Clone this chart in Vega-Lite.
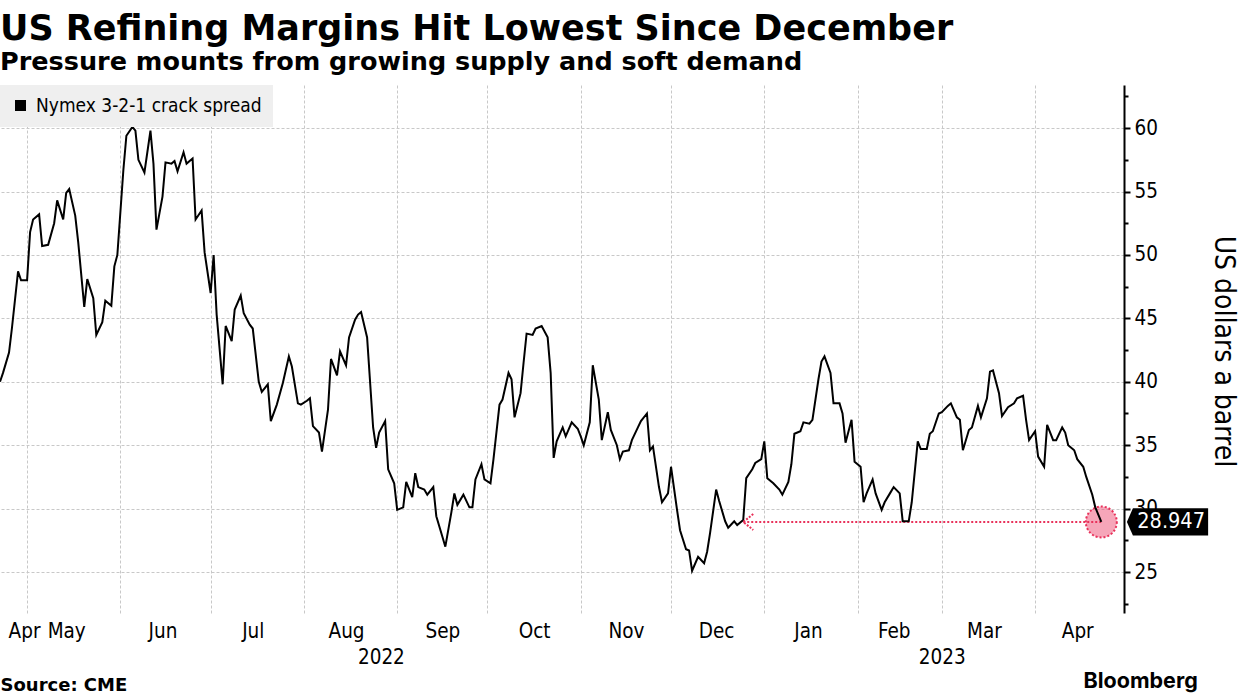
{
  "$schema": "https://vega.github.io/schema/vega-lite/v6.json",
  "width": 1124,
  "height": 528,
  "autosize": "none",
  "padding": {"left": 0, "top": 85, "right": 116, "bottom": 84},
  "background": "white",
  "title": {
    "text": "US Refining Margins Hit Lowest Since December",
    "subtitle": "Pressure mounts from growing supply and soft demand",
    "anchor": "start",
    "frame": "group",
    "font": "DejaVu Sans",
    "fontSize": 35,
    "fontWeight": "bold",
    "color": "#000000",
    "subtitleFont": "DejaVu Sans",
    "subtitleFontSize": 25.5,
    "subtitleFontWeight": "bold",
    "subtitleColor": "#000000",
    "subtitlePadding": 3,
    "offset": 10
  },
  "config": {"view": {"stroke": null}, "axis": {"zindex": 0}},
  "datasets": {
    "crack": [
      {"date": "2022-04-22", "value": 40.0},
      {"date": "2022-04-23", "value": 40.7},
      {"date": "2022-04-25", "value": 42.3},
      {"date": "2022-04-26", "value": 44.3},
      {"date": "2022-04-28", "value": 48.7},
      {"date": "2022-04-29", "value": 48.0},
      {"date": "2022-05-01", "value": 48.0},
      {"date": "2022-05-02", "value": 51.8},
      {"date": "2022-05-03", "value": 52.8},
      {"date": "2022-05-05", "value": 53.2},
      {"date": "2022-05-06", "value": 50.7},
      {"date": "2022-05-08", "value": 50.8},
      {"date": "2022-05-10", "value": 52.5},
      {"date": "2022-05-11", "value": 54.3},
      {"date": "2022-05-13", "value": 52.8},
      {"date": "2022-05-14", "value": 54.9},
      {"date": "2022-05-15", "value": 55.2},
      {"date": "2022-05-17", "value": 53.1},
      {"date": "2022-05-18", "value": 51.0},
      {"date": "2022-05-20", "value": 45.9},
      {"date": "2022-05-21", "value": 48.1},
      {"date": "2022-05-23", "value": 46.6},
      {"date": "2022-05-24", "value": 43.7},
      {"date": "2022-05-26", "value": 44.7},
      {"date": "2022-05-27", "value": 46.4},
      {"date": "2022-05-29", "value": 46.0},
      {"date": "2022-05-30", "value": 49.1},
      {"date": "2022-05-31", "value": 50.0},
      {"date": "2022-06-02", "value": 56.7},
      {"date": "2022-06-03", "value": 59.4},
      {"date": "2022-06-05", "value": 60.1},
      {"date": "2022-06-06", "value": 59.8},
      {"date": "2022-06-07", "value": 57.5},
      {"date": "2022-06-09", "value": 56.5},
      {"date": "2022-06-11", "value": 59.8},
      {"date": "2022-06-12", "value": 57.2},
      {"date": "2022-06-13", "value": 52.0},
      {"date": "2022-06-15", "value": 54.6},
      {"date": "2022-06-16", "value": 57.3},
      {"date": "2022-06-18", "value": 57.2},
      {"date": "2022-06-19", "value": 57.4},
      {"date": "2022-06-20", "value": 56.6},
      {"date": "2022-06-22", "value": 58.1},
      {"date": "2022-06-23", "value": 57.2},
      {"date": "2022-06-25", "value": 57.6},
      {"date": "2022-06-26", "value": 52.8},
      {"date": "2022-06-28", "value": 53.5},
      {"date": "2022-06-29", "value": 50.2},
      {"date": "2022-07-01", "value": 47.0},
      {"date": "2022-07-02", "value": 50.0},
      {"date": "2022-07-03", "value": 45.3},
      {"date": "2022-07-05", "value": 39.8},
      {"date": "2022-07-06", "value": 44.4},
      {"date": "2022-07-08", "value": 43.2},
      {"date": "2022-07-09", "value": 45.7},
      {"date": "2022-07-11", "value": 46.8},
      {"date": "2022-07-12", "value": 45.4},
      {"date": "2022-07-14", "value": 44.5},
      {"date": "2022-07-15", "value": 44.2},
      {"date": "2022-07-17", "value": 40.0},
      {"date": "2022-07-18", "value": 39.2},
      {"date": "2022-07-20", "value": 39.8},
      {"date": "2022-07-21", "value": 36.9},
      {"date": "2022-07-23", "value": 38.2},
      {"date": "2022-07-25", "value": 39.9},
      {"date": "2022-07-27", "value": 42.0},
      {"date": "2022-07-28", "value": 41.2},
      {"date": "2022-07-30", "value": 38.3},
      {"date": "2022-07-31", "value": 38.2},
      {"date": "2022-08-02", "value": 38.5},
      {"date": "2022-08-03", "value": 38.7},
      {"date": "2022-08-04", "value": 36.5},
      {"date": "2022-08-06", "value": 36.0},
      {"date": "2022-08-07", "value": 34.5},
      {"date": "2022-08-09", "value": 37.8},
      {"date": "2022-08-10", "value": 41.8},
      {"date": "2022-08-12", "value": 40.5},
      {"date": "2022-08-13", "value": 42.4},
      {"date": "2022-08-15", "value": 41.3},
      {"date": "2022-08-16", "value": 43.5},
      {"date": "2022-08-18", "value": 44.9},
      {"date": "2022-08-19", "value": 45.3},
      {"date": "2022-08-20", "value": 45.5},
      {"date": "2022-08-22", "value": 43.5},
      {"date": "2022-08-24", "value": 36.4},
      {"date": "2022-08-25", "value": 34.8},
      {"date": "2022-08-26", "value": 36.0},
      {"date": "2022-08-28", "value": 36.9},
      {"date": "2022-08-29", "value": 33.1},
      {"date": "2022-08-31", "value": 32.0},
      {"date": "2022-09-01", "value": 29.9},
      {"date": "2022-09-03", "value": 30.1},
      {"date": "2022-09-04", "value": 32.1},
      {"date": "2022-09-06", "value": 30.9},
      {"date": "2022-09-07", "value": 32.8},
      {"date": "2022-09-08", "value": 31.7},
      {"date": "2022-09-10", "value": 31.5},
      {"date": "2022-09-11", "value": 31.1},
      {"date": "2022-09-13", "value": 31.7},
      {"date": "2022-09-14", "value": 29.4},
      {"date": "2022-09-16", "value": 27.8},
      {"date": "2022-09-17", "value": 27.0},
      {"date": "2022-09-19", "value": 29.7},
      {"date": "2022-09-20", "value": 31.2},
      {"date": "2022-09-21", "value": 30.3},
      {"date": "2022-09-23", "value": 31.1},
      {"date": "2022-09-25", "value": 30.1},
      {"date": "2022-09-26", "value": 30.1},
      {"date": "2022-09-27", "value": 32.3},
      {"date": "2022-09-29", "value": 33.5},
      {"date": "2022-09-30", "value": 32.3},
      {"date": "2022-10-02", "value": 32.0},
      {"date": "2022-10-03", "value": 33.9},
      {"date": "2022-10-05", "value": 38.2},
      {"date": "2022-10-06", "value": 38.6},
      {"date": "2022-10-08", "value": 40.7},
      {"date": "2022-10-09", "value": 40.2},
      {"date": "2022-10-10", "value": 37.2},
      {"date": "2022-10-12", "value": 39.1},
      {"date": "2022-10-13", "value": 41.5},
      {"date": "2022-10-14", "value": 43.8},
      {"date": "2022-10-16", "value": 43.7},
      {"date": "2022-10-17", "value": 44.2},
      {"date": "2022-10-19", "value": 44.4},
      {"date": "2022-10-21", "value": 43.5},
      {"date": "2022-10-22", "value": 40.7},
      {"date": "2022-10-23", "value": 34.0},
      {"date": "2022-10-24", "value": 35.3},
      {"date": "2022-10-26", "value": 36.4},
      {"date": "2022-10-27", "value": 35.7},
      {"date": "2022-10-29", "value": 36.8},
      {"date": "2022-10-31", "value": 36.3},
      {"date": "2022-11-01", "value": 35.7},
      {"date": "2022-11-02", "value": 35.0},
      {"date": "2022-11-04", "value": 36.8},
      {"date": "2022-11-05", "value": 41.3},
      {"date": "2022-11-07", "value": 38.6},
      {"date": "2022-11-08", "value": 35.4},
      {"date": "2022-11-10", "value": 37.6},
      {"date": "2022-11-11", "value": 36.2},
      {"date": "2022-11-13", "value": 35.0},
      {"date": "2022-11-14", "value": 33.9},
      {"date": "2022-11-15", "value": 34.5},
      {"date": "2022-11-17", "value": 34.6},
      {"date": "2022-11-18", "value": 35.4},
      {"date": "2022-11-20", "value": 36.4},
      {"date": "2022-11-21", "value": 36.9},
      {"date": "2022-11-23", "value": 37.5},
      {"date": "2022-11-24", "value": 34.6},
      {"date": "2022-11-25", "value": 34.9},
      {"date": "2022-11-27", "value": 31.7},
      {"date": "2022-11-28", "value": 30.5},
      {"date": "2022-11-30", "value": 31.2},
      {"date": "2022-12-01", "value": 33.3},
      {"date": "2022-12-03", "value": 29.9},
      {"date": "2022-12-04", "value": 28.3},
      {"date": "2022-12-06", "value": 26.8},
      {"date": "2022-12-07", "value": 26.7},
      {"date": "2022-12-08", "value": 25.1},
      {"date": "2022-12-10", "value": 26.2},
      {"date": "2022-12-12", "value": 25.7},
      {"date": "2022-12-13", "value": 26.6},
      {"date": "2022-12-14", "value": 28.1},
      {"date": "2022-12-16", "value": 31.5},
      {"date": "2022-12-17", "value": 30.6},
      {"date": "2022-12-19", "value": 29.0},
      {"date": "2022-12-20", "value": 28.5},
      {"date": "2022-12-22", "value": 29.0},
      {"date": "2022-12-23", "value": 28.7},
      {"date": "2022-12-25", "value": 29.1},
      {"date": "2022-12-26", "value": 32.4},
      {"date": "2022-12-28", "value": 33.1},
      {"date": "2022-12-29", "value": 33.6},
      {"date": "2022-12-31", "value": 33.9},
      {"date": "2023-01-01", "value": 35.3},
      {"date": "2023-01-02", "value": 32.4},
      {"date": "2023-01-04", "value": 32.0},
      {"date": "2023-01-06", "value": 31.5},
      {"date": "2023-01-07", "value": 31.1},
      {"date": "2023-01-09", "value": 32.1},
      {"date": "2023-01-10", "value": 33.5},
      {"date": "2023-01-11", "value": 35.9},
      {"date": "2023-01-13", "value": 36.1},
      {"date": "2023-01-14", "value": 36.8},
      {"date": "2023-01-16", "value": 36.7},
      {"date": "2023-01-17", "value": 37.0},
      {"date": "2023-01-19", "value": 40.2},
      {"date": "2023-01-20", "value": 41.6},
      {"date": "2023-01-21", "value": 42.0},
      {"date": "2023-01-23", "value": 40.7},
      {"date": "2023-01-24", "value": 38.3},
      {"date": "2023-01-26", "value": 38.3},
      {"date": "2023-01-27", "value": 37.5},
      {"date": "2023-01-28", "value": 35.2},
      {"date": "2023-01-30", "value": 37.0},
      {"date": "2023-01-31", "value": 33.7},
      {"date": "2023-02-02", "value": 33.3},
      {"date": "2023-02-03", "value": 30.5},
      {"date": "2023-02-04", "value": 31.2},
      {"date": "2023-02-06", "value": 32.3},
      {"date": "2023-02-07", "value": 31.2},
      {"date": "2023-02-09", "value": 29.9},
      {"date": "2023-02-10", "value": 30.5},
      {"date": "2023-02-12", "value": 31.3},
      {"date": "2023-02-13", "value": 31.7},
      {"date": "2023-02-15", "value": 31.2},
      {"date": "2023-02-16", "value": 29.0},
      {"date": "2023-02-18", "value": 29.0},
      {"date": "2023-02-19", "value": 30.5},
      {"date": "2023-02-21", "value": 35.3},
      {"date": "2023-02-22", "value": 34.7},
      {"date": "2023-02-24", "value": 34.7},
      {"date": "2023-02-25", "value": 35.9},
      {"date": "2023-02-26", "value": 36.1},
      {"date": "2023-02-28", "value": 37.5},
      {"date": "2023-03-01", "value": 37.6},
      {"date": "2023-03-03", "value": 38.1},
      {"date": "2023-03-04", "value": 38.3},
      {"date": "2023-03-06", "value": 37.2},
      {"date": "2023-03-07", "value": 37.0},
      {"date": "2023-03-08", "value": 34.6},
      {"date": "2023-03-10", "value": 36.2},
      {"date": "2023-03-11", "value": 36.4},
      {"date": "2023-03-13", "value": 38.1},
      {"date": "2023-03-14", "value": 37.2},
      {"date": "2023-03-16", "value": 38.7},
      {"date": "2023-03-17", "value": 40.8},
      {"date": "2023-03-18", "value": 40.9},
      {"date": "2023-03-20", "value": 39.1},
      {"date": "2023-03-21", "value": 37.3},
      {"date": "2023-03-23", "value": 38.0},
      {"date": "2023-03-25", "value": 38.3},
      {"date": "2023-03-26", "value": 38.7},
      {"date": "2023-03-28", "value": 38.9},
      {"date": "2023-03-29", "value": 37.0},
      {"date": "2023-03-30", "value": 35.4},
      {"date": "2023-04-01", "value": 36.1},
      {"date": "2023-04-02", "value": 34.1},
      {"date": "2023-04-04", "value": 33.3},
      {"date": "2023-04-05", "value": 36.6},
      {"date": "2023-04-07", "value": 35.4},
      {"date": "2023-04-08", "value": 35.4},
      {"date": "2023-04-10", "value": 36.4},
      {"date": "2023-04-11", "value": 36.0},
      {"date": "2023-04-12", "value": 35.0},
      {"date": "2023-04-14", "value": 34.6},
      {"date": "2023-04-15", "value": 33.9},
      {"date": "2023-04-17", "value": 33.3},
      {"date": "2023-04-18", "value": 32.5},
      {"date": "2023-04-20", "value": 31.1},
      {"date": "2023-04-21", "value": 30.1},
      {"date": "2023-04-23", "value": 28.947}
    ],
    "annot": [
      {"start": "2022-12-25", "end": "2023-04-23", "value": 28.947, "label": "28.947"}
    ]
  },
  "resolve": {"axis": {"x": "independent", "y": "independent"}},
  "layer": [
    {
      "data": {"name": "annot"},
      "mark": {"type": "point", "shape": "circle", "filled": true, "fill": "#ee4d73", "fillOpacity": 0.5, "opacity": 1, "stroke": "#e8315a", "strokeOpacity": 1, "strokeWidth": 2, "strokeDash": [2, 2], "size": 960},
      "encoding": {
        "x": {
          "field": "end", "type": "temporal",
          "scale": {"type": "utc", "nice": false, "domain": [{"year": 2022, "month": 4, "date": 22, "utc": true}, {"year": 2023, "month": 4, "date": 30, "hours": 13, "utc": true}]},
          "axis": {
            "orient": "bottom",
            "values": [
              {"year": 2022, "month": 4, "date": 30, "utc": true},
              {"year": 2022, "month": 5, "date": 14, "utc": true},
              {"year": 2022, "month": 6, "date": 15, "utc": true},
              {"year": 2022, "month": 7, "date": 15, "utc": true},
              {"year": 2022, "month": 8, "date": 15, "utc": true},
              {"year": 2022, "month": 9, "date": 16, "utc": true},
              {"year": 2022, "month": 10, "date": 16, "hours": 12, "utc": true},
              {"year": 2022, "month": 11, "date": 16, "utc": true},
              {"year": 2022, "month": 12, "date": 16, "utc": true},
              {"year": 2023, "month": 1, "date": 15, "hours": 12, "utc": true},
              {"year": 2023, "month": 2, "date": 13, "utc": true},
              {"year": 2023, "month": 3, "date": 15, "utc": true},
              {"year": 2023, "month": 4, "date": 15, "utc": true}
            ],
            "labelExpr": "utcFormat(datum.value, '%b')",
            "grid": false, "ticks": false, "domain": false,
            "labelFont": "DejaVu Sans Condensed", "labelFontSize": 20.5, "labelColor": "#000000",
            "labelPadding": 8, "labelOverlap": false, "labelFlush": false, "labelBound": false,
            "title": null, "zindex": 0
          }
        },
        "y": {
          "field": "value", "type": "quantitative",
          "scale": {"domain": [21.77, 63.4], "nice": false, "zero": false},
          "axis": {
            "orient": "right",
            "values": [22.5, 27.5, 32.5, 37.5, 42.5, 47.5, 52.5, 57.5, 62.5],
            "labels": false, "grid": false, "domain": false,
            "ticks": true, "tickSize": 4, "tickWidth": 2, "tickColor": "#000000",
            "title": null, "zindex": 0
          }
        }
      }
    },
    {
      "data": {"name": "annot"},
      "mark": {"type": "rule", "color": "#e8315a", "strokeWidth": 2, "strokeDash": [2, 2]},
      "encoding": {
        "x": {
          "field": "start", "type": "temporal",
          "scale": {"type": "utc", "nice": false, "domain": [{"year": 2022, "month": 4, "date": 22, "utc": true}, {"year": 2023, "month": 4, "date": 30, "hours": 13, "utc": true}]},
          "axis": {
            "orient": "bottom",
            "values": [
              {"year": 2022, "month": 8, "date": 26, "hours": 14, "utc": true},
              {"year": 2023, "month": 3, "date": 1, "utc": true}
            ],
            "labelExpr": "utcFormat(datum.value, '%Y')",
            "grid": false, "ticks": false, "domain": false,
            "labelFont": "DejaVu Sans Condensed", "labelFontSize": 20.5, "labelColor": "#000000",
            "labelPadding": 34, "labelOverlap": false, "labelFlush": false, "labelBound": false,
            "title": "Bloomberg", "titleX": 1083, "titleY": 74, "titleAlign": "left", "titleAnchor": "start",
            "titleBaseline": "alphabetic", "titleFont": "Inter", "titleFontSize": 21.5, "titleFontWeight": "bold",
            "titleColor": "#000000", "zindex": 0
          }
        },
        "x2": {"field": "end"},
        "y": {"field": "value", "type": "quantitative", "scale": {"domain": [21.77, 63.4], "nice": false, "zero": false}, "axis": null}
      }
    },
    {
      "data": {"name": "crack"},
      "mark": {"type": "line", "strokeWidth": 2},
      "encoding": {
        "x": {
          "field": "date", "type": "temporal",
          "scale": {"type": "utc", "nice": false, "domain": [{"year": 2022, "month": 4, "date": 22, "utc": true}, {"year": 2023, "month": 4, "date": 30, "hours": 13, "utc": true}]},
          "axis": {
            "orient": "bottom",
            "values": [
              {"year": 2022, "month": 5, "date": 1, "utc": true},
              {"year": 2022, "month": 6, "date": 1, "utc": true},
              {"year": 2022, "month": 7, "date": 1, "utc": true},
              {"year": 2022, "month": 8, "date": 1, "utc": true},
              {"year": 2022, "month": 9, "date": 1, "utc": true},
              {"year": 2022, "month": 10, "date": 1, "utc": true},
              {"year": 2022, "month": 11, "date": 1, "utc": true},
              {"year": 2022, "month": 12, "date": 1, "utc": true},
              {"year": 2023, "month": 1, "date": 1, "utc": true},
              {"year": 2023, "month": 2, "date": 1, "utc": true},
              {"year": 2023, "month": 3, "date": 1, "utc": true},
              {"year": 2023, "month": 4, "date": 1, "utc": true}
            ],
            "grid": true, "gridColor": "#c8c8c8", "gridDash": [3, 2], "gridWidth": 1,
            "labels": false, "ticks": false, "domain": false,
            "title": "Source: CME", "titleX": 0, "titleY": 77, "titleAlign": "left", "titleAnchor": "start",
            "titleBaseline": "alphabetic", "titleFont": "DejaVu Sans", "titleFontSize": 18, "titleFontWeight": "bold",
            "titleColor": "#000000", "zindex": 0
          }
        },
        "y": {
          "field": "value", "type": "quantitative",
          "scale": {"domain": [21.77, 63.4], "nice": false, "zero": false},
          "axis": {
            "orient": "right",
            "values": [25, 30, 35, 40, 45, 50, 55, 60],
            "grid": true, "gridColor": "#c8c8c8", "gridDash": [3, 2], "gridWidth": 1,
            "domain": true, "domainColor": "#000000", "domainWidth": 2,
            "ticks": true, "tickSize": 6, "tickWidth": 2, "tickColor": "#000000",
            "labelFont": "DejaVu Sans Condensed", "labelFontSize": 20.5, "labelColor": "#000000", "labelPadding": 4,
            "title": "US dollars a barrel", "titleFont": "DejaVu Sans Condensed", "titleFontSize": 28,
            "titleFontWeight": "normal", "titleColor": "#000000", "titleAngle": 90,
            "titleX": 98, "titleY": 266, "titleAlign": "center", "titleBaseline": "middle",
            "zindex": 0
          }
        },
        "color": {
          "datum": "Nymex 3-2-1 crack spread",
          "scale": {"range": ["#000000"]},
          "legend": {
            "orient": "top-left", "offset": 0, "title": null,
            "fillColor": "#efefef", "padding": 11, "cornerRadius": 0,
            "labelFont": "DejaVu Sans Condensed", "labelFontSize": 19, "labelColor": "#000000", "labelOffset": 6, "labelLimit": 400,
            "symbolType": "square", "symbolSize": 121, "symbolFillColor": "#000000", "symbolStrokeColor": "#000000", "symbolStrokeWidth": 0,
            "zindex": 1
          }
        }
      }
    },
    {
      "data": {"name": "annot"},
      "mark": {"type": "point", "shape": "M1.25,-1L0,0L1.25,1", "filled": false, "opacity": 1, "stroke": "#e8315a", "strokeWidth": 2, "strokeDash": [2, 1.5], "size": 256},
      "encoding": {
        "x": {"field": "start", "type": "temporal", "scale": {"type": "utc", "nice": false, "domain": [{"year": 2022, "month": 4, "date": 22, "utc": true}, {"year": 2023, "month": 4, "date": 30, "hours": 13, "utc": true}]}, "axis": null},
        "y": {"field": "value", "type": "quantitative", "scale": {"domain": [21.77, 63.4], "nice": false, "zero": false}, "axis": null}
      }
    },
    {
      "data": {"name": "annot"},
      "mark": {"type": "point", "shape": "M0.64,0L0.79,-0.34L2.67,-0.34L2.67,0.34L0.79,0.34Z", "filled": true, "fill": "#000000", "opacity": 1, "strokeWidth": 0, "size": 6400},
      "encoding": {
        "x": {"field": "end", "type": "temporal", "scale": {"type": "utc", "nice": false, "domain": [{"year": 2022, "month": 4, "date": 22, "utc": true}, {"year": 2023, "month": 4, "date": 30, "hours": 13, "utc": true}]}, "axis": null},
        "y": {"field": "value", "type": "quantitative", "scale": {"domain": [21.77, 63.4], "nice": false, "zero": false}, "axis": null}
      }
    },
    {
      "data": {"name": "annot"},
      "mark": {"type": "text", "color": "#ffffff", "font": "DejaVu Sans Condensed", "fontSize": 21.5, "align": "left", "baseline": "middle", "dx": 36},
      "encoding": {
        "x": {"field": "end", "type": "temporal", "scale": {"type": "utc", "nice": false, "domain": [{"year": 2022, "month": 4, "date": 22, "utc": true}, {"year": 2023, "month": 4, "date": 30, "hours": 13, "utc": true}]}, "axis": null},
        "y": {"field": "value", "type": "quantitative", "scale": {"domain": [21.77, 63.4], "nice": false, "zero": false}, "axis": null},
        "text": {"field": "label"}
      }
    }
  ]
}
